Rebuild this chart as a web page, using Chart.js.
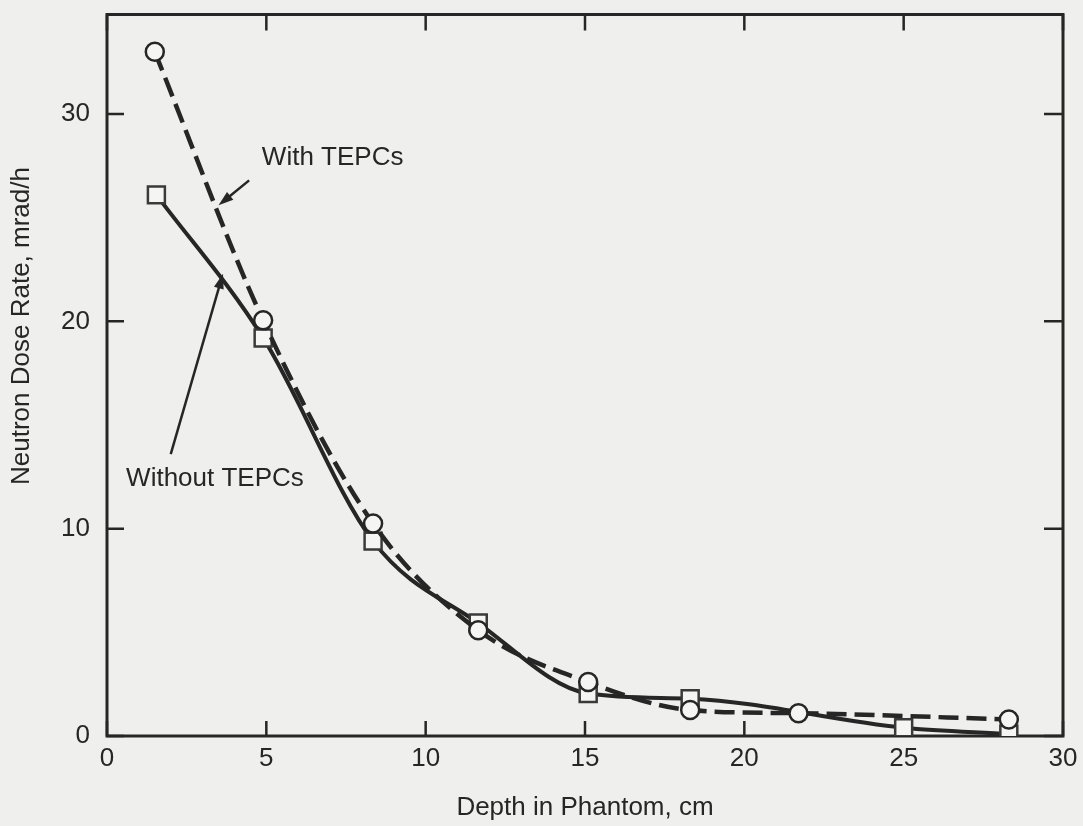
<!DOCTYPE html>
<html lang="en">
<head>
    <meta charset="UTF-8">
    <title>Neutron Dose Rate vs Depth in Phantom</title>
    <script src="https://cdn.jsdelivr.net/npm/chart.js"></script>
    <style>
        html, body {
            margin: 0;
            padding: 0;
            background-color: #efefed;
        }
        #wrap {
            width: 1083px;
            height: 826px;
        }
    </style>
</head>
<body>
    <div id="wrap"><canvas id="doseChart"></canvas></div>
    <script>
        // values
        const depthWith = [1.5, 4.9, 8.35, 11.65, 15.1, 18.3, 21.7, 28.3];
        const doseWith = [33.0, 20.05, 10.25, 5.1, 2.6, 1.25, 1.1, 0.8];
        const depthWithout = [1.55, 4.9, 8.35, 11.65, 15.1, 18.3, 25.0, 28.3];
        const doseWithout = [26.1, 19.2, 9.4, 5.45, 2.05, 1.8, 0.4, 0.1];
        const xTicks = [0, 5, 10, 15, 20, 25, 30];
        const yTicks = [0, 10, 20, 30];

        const ink = '#262626';
        const paper = '#efefed';
        const font = 'Liberation Sans, Arial, Helvetica, sans-serif';

        // callouts, anchored in data units
        const callouts = [
            { text: 'With TEPCs', at: [4.86, 27.9], from: [4.46, 26.8], to: [3.5, 25.6] },
            { text: 'Without TEPCs', at: [0.6, 12.4], from: [2.0, 13.6], to: [3.64, 22.3] }
        ];

        const paperPlugin = {
            id: 'paper',
            beforeDraw(chart) {
                const ctx = chart.ctx;
                ctx.save();
                ctx.fillStyle = paper;
                ctx.fillRect(0, 0, chart.width, chart.height);
                ctx.restore();
            }
        };

        // frame with inward ticks on all four sides
        const framePlugin = {
            id: 'frame',
            beforeDatasetsDraw(chart) {
                const { ctx, chartArea: a, scales: { x, y } } = chart;
                ctx.save();
                ctx.strokeStyle = ink;
                ctx.lineWidth = 3;
                ctx.strokeRect(a.left, a.top, a.right - a.left, a.bottom - a.top);
                ctx.lineWidth = 2.5;
                ctx.beginPath();
                xTicks.forEach(v => {
                    const px = x.getPixelForValue(v);
                    ctx.moveTo(px, a.bottom); ctx.lineTo(px, a.bottom - 15);
                    ctx.moveTo(px, a.top); ctx.lineTo(px, a.top + 16);
                });
                yTicks.forEach(v => {
                    const py = y.getPixelForValue(v);
                    ctx.moveTo(a.left, py); ctx.lineTo(a.left + 17, py);
                    ctx.moveTo(a.right, py); ctx.lineTo(a.right - 19, py);
                });
                ctx.stroke();

                // y axis title, sits a little above centre in the original
                ctx.fillStyle = ink;
                ctx.font = '26px ' + font;
                ctx.textAlign = 'center';
                ctx.textBaseline = 'middle';
                ctx.translate(22, 326);
                ctx.rotate(-Math.PI / 2);
                ctx.fillText('Neutron Dose Rate, mrad/h', 0, 0);
                ctx.restore();
            }
        };

        const calloutPlugin = {
            id: 'callouts',
            afterDatasetsDraw(chart) {
                const { ctx, scales: { x, y } } = chart;
                ctx.save();
                ctx.fillStyle = ink;
                ctx.strokeStyle = ink;
                ctx.font = '26px ' + font;
                ctx.textBaseline = 'middle';
                ctx.textAlign = 'left';
                callouts.forEach(c => {
                    ctx.fillText(c.text, x.getPixelForValue(c.at[0]), y.getPixelForValue(c.at[1]));
                    const x1 = x.getPixelForValue(c.from[0]), y1 = y.getPixelForValue(c.from[1]);
                    const x2 = x.getPixelForValue(c.to[0]), y2 = y.getPixelForValue(c.to[1]);
                    const ang = Math.atan2(y2 - y1, x2 - x1);
                    const head = 15, half = 5;
                    ctx.lineWidth = 2.5;
                    ctx.beginPath();
                    ctx.moveTo(x1, y1);
                    ctx.lineTo(x2 - Math.cos(ang) * head * 0.8, y2 - Math.sin(ang) * head * 0.8);
                    ctx.stroke();
                    ctx.beginPath();
                    ctx.moveTo(x2, y2);
                    ctx.lineTo(x2 - Math.cos(ang) * head + Math.sin(ang) * half, y2 - Math.sin(ang) * head - Math.cos(ang) * half);
                    ctx.lineTo(x2 - Math.cos(ang) * head - Math.sin(ang) * half, y2 - Math.sin(ang) * head + Math.cos(ang) * half);
                    ctx.closePath();
                    ctx.fill();
                });
                ctx.restore();
            }
        };

        new Chart(document.getElementById('doseChart'), {
            type: 'line',
            data: {
                datasets: [{
                    label: 'With TEPCs',
                    data: depthWith.map((d, i) => ({ x: d, y: doseWith[i] })),
                    borderColor: ink,
                    borderWidth: 4.5,
                    borderDash: [20, 8],
                    cubicInterpolationMode: 'monotone',
                    pointStyle: 'circle',
                    pointRadius: 9,
                    pointBorderWidth: 2.5,
                    pointBorderColor: ink,
                    pointBackgroundColor: '#f5f5f3'
                }, {
                    label: 'Without TEPCs',
                    data: depthWithout.map((d, i) => ({ x: d, y: doseWithout[i] })),
                    borderColor: ink,
                    borderWidth: 4,
                    cubicInterpolationMode: 'monotone',
                    pointStyle: 'rect',
                    pointRadius: 12,
                    pointBorderWidth: 2.5,
                    pointBorderColor: '#3a3a3a',
                    pointBackgroundColor: '#f5f5f3'
                }]
            },
            options: {
                responsive: true,
                maintainAspectRatio: false,
                animation: false,
                layout: { padding: { top: 10, right: 20, left: 0, bottom: 0 } },
                plugins: {
                    legend: { display: false },
                    tooltip: { enabled: false }
                },
                scales: {
                    x: {
                        type: 'linear',
                        min: 0,
                        max: 30,
                        afterBuildTicks: s => { s.ticks = xTicks.map(v => ({ value: v })); },
                        afterFit: s => { s.height = 90; s.paddingLeft = 0; s.paddingRight = 0; },
                        grid: { display: false },
                        border: { display: false },
                        ticks: { color: ink, font: { size: 26, family: font }, padding: -1 },
                        title: {
                            display: true,
                            text: 'Depth in Phantom, cm',
                            color: ink,
                            font: { size: 26, family: font },
                            padding: { top: 0, bottom: 3 }
                        }
                    },
                    y: {
                        type: 'linear',
                        min: 0,
                        max: 34.8,
                        afterBuildTicks: s => { s.ticks = yTicks.map(v => ({ value: v })); },
                        afterFit: s => { s.width = 107; s.paddingTop = 0; s.paddingBottom = 0; },
                        grid: { display: false },
                        border: { display: false },
                        ticks: { color: ink, font: { size: 26, family: font }, padding: 9 }
                    }
                }
            },
            plugins: [paperPlugin, framePlugin, calloutPlugin]
        });
    </script>
</body>
</html>
